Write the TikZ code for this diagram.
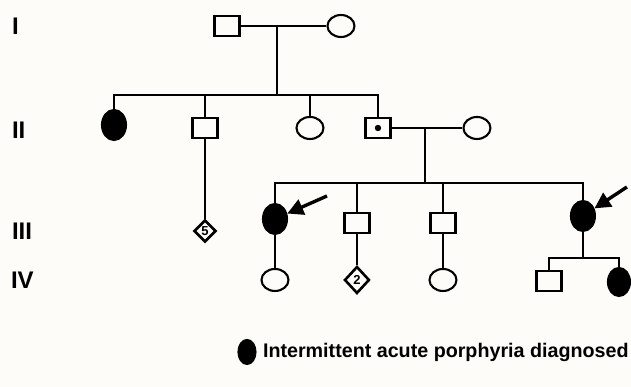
\documentclass[tikz,border=0pt]{standalone}
\usepackage{fontspec}
\setmainfont{Liberation Sans}
\usetikzlibrary{shapes.geometric,arrows.meta}
\definecolor{paper}{RGB}{253,252,248}
\begin{document}
\begin{tikzpicture}[x=1pt,y=-1pt,line width=2.1pt,
  male/.style={draw,rectangle,minimum width=25pt,minimum height=20pt,inner sep=0pt},
  female/.style={draw,ellipse,minimum width=27pt,minimum height=22pt,inner sep=0pt},
  affected/.style={draw,fill=black,ellipse,minimum width=24pt,minimum height=30pt,inner sep=0pt},
  sibs/.style={draw,diamond,line width=2.6pt,minimum width=22pt,minimum height=22pt,inner sep=0pt,font=\bfseries\fontsize{13}{13}\selectfont},
  gen/.style={anchor=west,inner sep=0pt,font=\bfseries\fontsize{24}{24}\selectfont},
  proband/.style={-{Triangle[length=16pt,width=16pt]},line width=3.4pt}
]
% page
\fill[paper] (0,0) rectangle (631,387);

% generation labels
\node[gen] (gI)   at (11,26)  {I};
\node[gen] (gII)  at (11,130) {II};
\node[gen] (gIII) at (11,231) {III};
\node[gen] (gIV)  at (10,280) {IV};

% generation I
\node[male]   (I1) at (227,26) {};
\node[female] (I2) at (341,26) {};

% generation II
\node[affected] (II1) at (114,125) {};
\node[male]     (II2) at (205,128) {};
\node[female]   (II3) at (310,128) {};
\node[male]     (II4) at (378,128) {};
\fill (II4) circle (3.2pt);
\node[female]   (II5) at (477,128) {};

% generation III
\node[sibs]     (III0) at (205,231) {5};
\node[affected] (III1) at (275,219) {};
\node[male]     (III2) at (357,223) {};
\node[male]     (III3) at (443,223) {};
\node[affected] (III4) at (583,216) {};

% generation IV
\node[female]   (IV1) at (275,280) {};
\node[sibs,minimum width=25pt,minimum height=27pt] (IV2) at (357,280) {2};
\node[female]   (IV3) at (443,280) {};
\node[male]     (IV4) at (549,281) {};
\node[affected,minimum width=22pt,minimum height=28pt] (IV5) at (619,282) {};

% mating and descent lines
\coordinate (m1) at (277,26);
\coordinate (d1) at (277,95);
\draw (I1) -- (I2);
\draw (m1) -- (d1);
\draw (II1) |- (d1) -| (II4);
\draw (II2) -- (II2 |- d1);
\draw (II3) -- (II3 |- d1);
\draw (II2) -- (III0);

\coordinate (m2) at (425,128);
\coordinate (d2) at (425,183);
\draw (II4) -- (II5);
\draw (m2) -- (d2);
\draw (III1) |- (d2) -| (III4);
\draw (III2) -- (III2 |- d2);
\draw (III3) -- (III3 |- d2);

\draw (III1) -- (IV1);
\draw (III2) -- (IV2);
\draw (III3) -- (IV3);
\coordinate (d3) at (583,258);
\draw (III4) -- (d3);
\draw (IV4) |- (d3) -| (IV5);

% probands
\coordinate (a1) at (327,196);
\coordinate (a2) at (627,187);
\draw[proband] (a1) -- (III1);
\draw[proband] (a2) -- (III4);

% key
\node[affected,minimum width=17pt,minimum height=24pt] (key) at (247,352) {};
\node[anchor=west,inner sep=0pt,font=\bfseries\fontsize{19.7}{19.7}\selectfont] (keytext) at (262,352) {Intermittent acute porphyria diagnosed};
\end{tikzpicture}
\end{document}
